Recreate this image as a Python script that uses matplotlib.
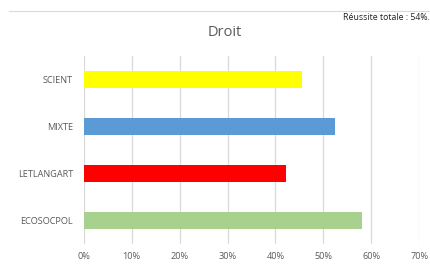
import matplotlib.pyplot as plt
from matplotlib.ticker import PercentFormatter

# Data (bottom to top)
categories = ['ECOSOCPOL', 'LETLANGART', 'MIXTE', 'SCIENT']
values = [58.1, 42.2, 52.4, 45.5]
colors = ['#A9D18E', '#FF0000', '#5B9BD5', '#FFFF00']
title = 'Droit'
note = 'Réussite totale : 54%.'

plt.rcParams['font.family'] = ['Open Sans', 'DejaVu Sans']
grey = '#595959'

fig = plt.figure(figsize=(4.31, 2.64), dpi=100)
ax = fig.add_axes([0.194, 0.077, 0.779, 0.712])

ax.barh(categories, values, height=0.355, color=colors, zorder=3)
ax.set_xlim(0, 70)
ax.set_ylim(-0.5, len(categories) - 0.5)
ax.set_xticks(range(0, 71, 10))
ax.xaxis.set_major_formatter(PercentFormatter(decimals=0))
ax.grid(axis='x', color='#D9D9D9', linewidth=0.9, zorder=0)
for s in ax.spines.values():
    s.set_visible(False)
ax.tick_params(length=0, colors=grey, labelsize=6.6)
ax.tick_params(axis='y', pad=7.5)
ax.tick_params(axis='x', pad=6)

fig.text(0.522, 0.875, title, ha='center', va='center', fontsize=10.5, color=grey)
fig.text(0.998, 0.935, note, ha='right', va='center', fontsize=6.3, color='#222222')
fig.add_artist(plt.Line2D([0.02, 1.0], [0.958, 0.958], color='#D9D9D9', linewidth=0.8))

fig.savefig('out.png', dpi=100, facecolor='white')
